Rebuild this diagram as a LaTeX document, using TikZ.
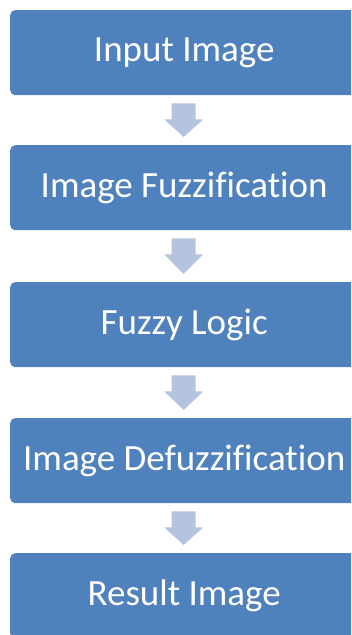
\documentclass[tikz,border=0pt]{standalone}
\usepackage{fontspec}
\setmainfont{Carlito}[Ligatures={NoCommon}]
\usetikzlibrary{calc}
\definecolor{boxblue}{HTML}{4F81BD}
\definecolor{arrowblue}{HTML}{B4C4DF}
\begin{document}
\begin{tikzpicture}[x=1pt,y=-1pt,
  stage/.style={fill=boxblue, draw=none, rounded corners=5pt,
    minimum width=348pt, minimum height=85pt, text=white,
    font=\fontsize{37}{42}\selectfont, anchor=north west, inner sep=0pt},
  flow/.style={fill=arrowblue, draw=none}]
\useasboundingbox (0,0) rectangle (351,635);
\begin{scope}
\clip (0,0) rectangle (351,635);
\node[stage] (s1) at (10,10)  {Input Image};
\node[stage] (s2) at (10,145) {Image Fuzzification};
\node[stage] (s3) at (10,282) {Fuzzy Logic};
\node[stage] (s4) at (10,418) {Image Defuzzification};
\node[stage] (s5) at (10,553) {Result Image};
\foreach \a/\b in {s1/s2,s2/s3,s3/s4,s4/s5}{
  \coordinate (t) at ($(\a.south)+(-0.5,0)$);
  \fill[flow] ($(t)+(-12,8)$) -- ($(t)+(12,8)$) -- ($(t)+(12,24)$) -- ($(t)+(19.5,24)$)
    -- ($(\b.north)+(-0.5,-8)$) -- ($(t)+(-19.5,24)$) -- ($(t)+(-12,24)$) -- cycle;
}
\end{scope}
\end{tikzpicture}
\end{document}
